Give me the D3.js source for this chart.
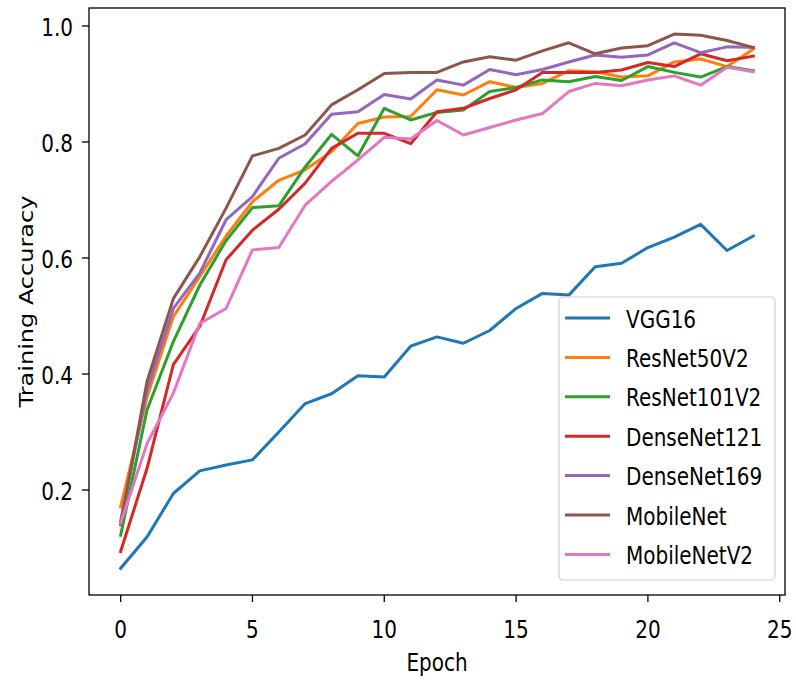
<!DOCTYPE html>
<html>
<head>
<meta charset="utf-8">
<script src="https://cdn.jsdelivr.net/npm/d3@7"></script>
<style>
  html, body { margin: 0; padding: 0; background: #fff; }
  svg { display: block; }
  text { font-family: "DejaVu Sans", sans-serif; fill: #000; }
</style>
</head>
<body>
<svg id="chart" width="796" height="681"></svg>
<script>
const epochs = d3.range(0, 25);
const seriesNames = ["VGG16", "ResNet50V2", "ResNet101V2", "DenseNet121", "DenseNet169", "MobileNet", "MobileNetV2"];
const seriesColors = ["#1f77b4", "#ff7f0e", "#2ca02c", "#d62728", "#9467bd", "#8c564b", "#e377c2"];

const vgg16 = [0.065,0.119,0.194,0.233,0.243,0.252,0.300,0.349,0.366,0.397,0.395,0.448,0.464,0.453,0.475,0.513,0.539,0.536,0.585,0.591,0.618,0.636,0.658,0.613,0.638];
const resnet50v2 = [0.171,0.360,0.499,0.568,0.638,0.697,0.734,0.752,0.783,0.832,0.843,0.844,0.890,0.881,0.904,0.894,0.901,0.923,0.921,0.912,0.914,0.938,0.943,0.930,0.960];
const resnet101v2 = [0.122,0.338,0.456,0.553,0.630,0.687,0.690,0.757,0.813,0.776,0.858,0.838,0.851,0.855,0.887,0.894,0.907,0.904,0.913,0.906,0.930,0.920,0.912,0.930,0.923];
const densenet121 = [0.094,0.237,0.416,0.482,0.597,0.648,0.684,0.729,0.789,0.815,0.815,0.797,0.852,0.858,0.875,0.890,0.920,0.920,0.920,0.924,0.937,0.930,0.952,0.940,0.948];
const densenet169 = [0.147,0.372,0.513,0.574,0.666,0.706,0.772,0.797,0.848,0.852,0.882,0.874,0.907,0.898,0.925,0.916,0.925,0.938,0.950,0.946,0.950,0.971,0.954,0.964,0.963];
const mobilenet = [0.140,0.387,0.530,0.602,0.686,0.776,0.789,0.812,0.864,0.890,0.918,0.920,0.920,0.938,0.947,0.941,0.957,0.971,0.952,0.962,0.966,0.986,0.984,0.975,0.963];
const mobilenetv2 = [0.143,0.280,0.367,0.487,0.513,0.614,0.618,0.691,0.732,0.769,0.808,0.805,0.837,0.812,0.825,0.838,0.849,0.887,0.901,0.897,0.907,0.914,0.898,0.929,0.921];
const seriesValues = [vgg16, resnet50v2, resnet101v2, densenet121, densenet169, mobilenet, mobilenetv2];

const xTicks = [0, 5, 10, 15, 20, 25];
const yTicks = [0.2, 0.4, 0.6, 0.8, 1.0];
const xLabel = "Epoch";
const yLabel = "Training Accuracy";

const svg = d3.select("#chart");
const padL = 89, padR = 785, padT = 8, padB = 595;
const SY = 1.2; // vertical text stretch of the reference
const FS = 20;

const x = d3.scaleLinear().domain([-1.2, 25.2]).range([padL, padR]);
const y = d3.scaleLinear().domain([0.019, 1.031]).range([padB, padT]);

// lines
const line = d3.line().x((d, i) => x(epochs[i])).y(d => y(d));
const gLines = svg.append("g");
seriesValues.forEach((vals, k) => {
  gLines.append("path")
    .datum(vals)
    .attr("d", line)
    .attr("fill", "none")
    .attr("stroke", seriesColors[k])
    .attr("stroke-width", 3)
    .attr("stroke-linejoin", "round")
    .attr("stroke-linecap", "square");
});

// frame
svg.append("rect")
  .attr("x", padL).attr("y", padT)
  .attr("width", padR - padL).attr("height", padB - padT)
  .attr("fill", "none").attr("stroke", "#000").attr("stroke-width", 1.3);

// x ticks
const gx = svg.append("g");
xTicks.forEach(t => {
  gx.append("line").attr("x1", x(t)).attr("x2", x(t)).attr("y1", padB).attr("y2", padB + 7)
    .attr("stroke", "#000").attr("stroke-width", 1.3);
  gx.append("text")
    .attr("transform", `translate(${x(t)},${638}) scale(1,${SY})`)
    .attr("text-anchor", "middle")
    .style("font-size", FS + "px")
    .text(d3.format("d")(t));
});

// y ticks
const gy = svg.append("g");
yTicks.forEach(t => {
  gy.append("line").attr("x1", padL - 7).attr("x2", padL).attr("y1", y(t)).attr("y2", y(t))
    .attr("stroke", "#000").attr("stroke-width", 1.3);
  gy.append("text")
    .attr("transform", `translate(${padL - 16},${y(t) + 1}) scale(1,${SY})`)
    .attr("text-anchor", "end")
    .attr("dy", "0.36em")
    .style("font-size", FS + "px")
    .text(d3.format(".1f")(t));
});

// axis labels
svg.append("text")
  .attr("transform", `translate(${(padL + padR) / 2},${671}) scale(1,${SY})`)
  .attr("text-anchor", "middle")
  .style("font-size", FS + "px")
  .text(xLabel);

svg.append("text")
  .attr("transform", `translate(${33},${(padT + padB) / 2}) scale(1,${SY}) rotate(-90)`)
  .attr("text-anchor", "middle")
  .style("font-size", FS + "px")
  .text(yLabel);

// legend
const lg = svg.append("g");
lg.append("rect")
  .attr("x", 559).attr("y", 297).attr("width", 216).attr("height", 283)
  .attr("rx", 4).attr("ry", 4)
  .attr("fill", "#fff").attr("fill-opacity", 0.8)
  .attr("stroke", "#d0d0d0").attr("stroke-width", 1.2);
seriesNames.forEach((name, k) => {
  const yy = 318 + k * 39.4;
  lg.append("line").attr("x1", 565).attr("x2", 610).attr("y1", yy).attr("y2", yy)
    .attr("stroke", seriesColors[k]).attr("stroke-width", 3);
  lg.append("text")
    .attr("transform", `translate(626,${yy + 1}) scale(1,${SY})`)
    .attr("dy", "0.36em")
    .style("font-size", FS + "px")
    .text(name);
});
</script>
</body>
</html>
